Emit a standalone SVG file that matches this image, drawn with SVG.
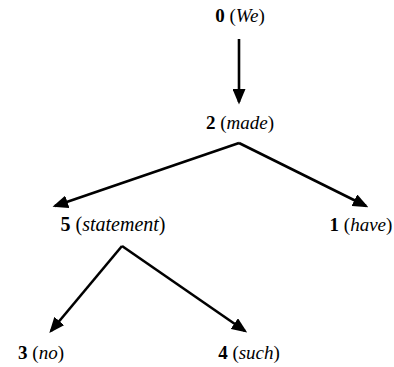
<svg xmlns="http://www.w3.org/2000/svg" width="394" height="367" viewBox="0 0 394 367">
<style>
text{font-family:'Liberation Serif','Times New Roman',serif;font-size:19px;fill:#000;text-anchor:middle}
.n{font-weight:bold}
.w{font-style:italic}
.e{stroke:#000;stroke-width:2.6;fill:none;marker-end:url(#ah)}
</style>
<defs>
<marker id="ah" markerWidth="6" markerHeight="5" refX="5" refY="2.5" orient="auto" markerUnits="strokeWidth">
<path d="M0,0 L6,2.5 L0,5 z" fill="#000"/>
</marker>
</defs>
<rect width="394" height="367" fill="#fff"/>
<g id="edges">
<line class="e" x1="239" y1="39" x2="239" y2="102"/>
<line class="e" x1="239" y1="143" x2="55" y2="206"/>
<line class="e" x1="239" y1="143" x2="366" y2="206"/>
<line class="e" x1="122" y1="246" x2="51" y2="331"/>
<line class="e" x1="122" y1="246" x2="245" y2="331"/>
</g>
<g id="n0"><text x="240" y="22"><tspan class="n">0</tspan> (<tspan class="w">We</tspan>)</text></g>
<g id="n2"><text x="240" y="129"><tspan class="n">2</tspan> (<tspan class="w">made</tspan>)</text></g>
<g id="n5"><text x="113" y="231" style="font-size:20px"><tspan class="n">5</tspan> (<tspan class="w">statement</tspan>)</text></g>
<g id="n1"><text x="361" y="231"><tspan class="n">1</tspan> (<tspan class="w">have</tspan>)</text></g>
<g id="n3"><text x="41" y="359"><tspan class="n">3</tspan> (<tspan class="w">no</tspan>)</text></g>
<g id="n4"><text x="249" y="359"><tspan class="n">4</tspan> (<tspan class="w">such</tspan>)</text></g>
</svg>
